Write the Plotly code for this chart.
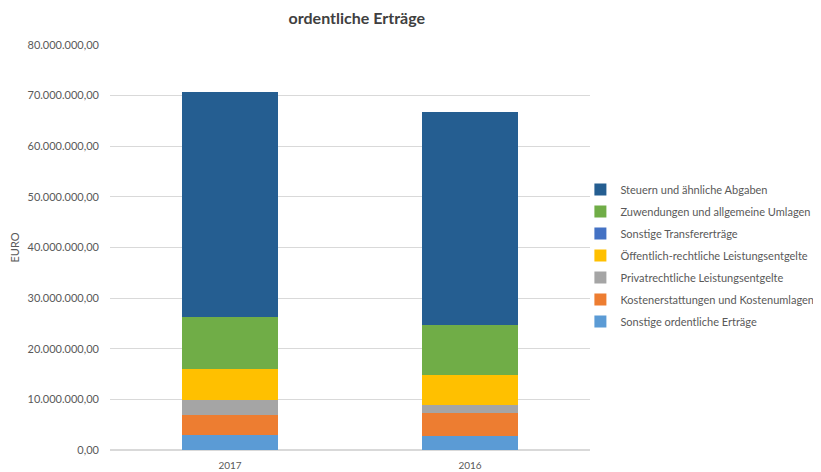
import plotly.graph_objects as go

years = ["2017", "2016"]

# stacked bottom -> top
series = [
    "Sonstige ordentliche Erträge",
    "Kostenerstattungen und Kostenumlagen",
    "Privatrechtliche Leistungsentgelte",
    "Öffentlich-rechtliche Leistungsentgelte",
    "Sonstige Transfererträge",
    "Zuwendungen und allgemeine Umlagen",
    "Steuern und ähnliche Abgaben",
]
sonstige_ordentliche = [3000000, 2700000]
kostenerstattungen = [3950000, 4650000]
privatrechtliche = [2950000, 1500000]
oeffentlich_rechtliche = [6100000, 6000000]
transfer = [30000, 10000]
zuwendungen = [10150000, 9850000]
steuern = [44600000, 42100000]

values = [
    sonstige_ordentliche,
    kostenerstattungen,
    privatrechtliche,
    oeffentlich_rechtliche,
    transfer,
    zuwendungen,
    steuern,
]
colors = ["#5B9BD5", "#ED7D31", "#A5A5A5", "#FFC000", "#4472C4", "#70AD47", "#255E91"]

font = "Lato, 'Open Sans', sans-serif"

fig = go.Figure()
for i, (name, vals, col) in enumerate(zip(series, values, colors)):
    fig.add_trace(
        go.Bar(
            x=years,
            y=vals,
            name=name,
            legendgroup=name,
            legendrank=len(series) - i,
            marker=dict(color=col, line=dict(width=0)),
            width=0.4,
        )
    )

# the page body has an 8px margin, so the figure is 8px smaller each way
fig.update_layout(
    barmode="stack",
    width=813,
    height=464,
    margin=dict(l=102, r=231, t=37, b=22, autoexpand=False),
    paper_bgcolor="white",
    plot_bgcolor="white",
    separators=",.",
    font=dict(family=font, size=11, color="#595959"),
    title=dict(
        text="<b>ordentliche Erträge</b>",
        x=0.429,
        xanchor="center",
        y=0.978,
        yanchor="middle",
        font=dict(family=font, size=16, color="#404040"),
    ),
    legend=dict(
        traceorder="grouped",
        tracegroupgap=3,
        x=0.98,
        xanchor="left",
        y=0.48,
        yanchor="middle",
        font=dict(family=font, size=11, color="#595959"),
        itemwidth=30,
        bgcolor="rgba(0,0,0,0)",
    ),
    yaxis=dict(
        range=[0, 80000000],
        dtick=10000000,
        tickformat=",.2f",
        gridcolor="#D9D9D9",
        gridwidth=1,
        zeroline=True,
        zerolinecolor="#D9D9D9",
        showline=False,
        ticks="",
        ticklabelstandoff=10,
        automargin=False,
        title=dict(text="EURO", standoff=11, font=dict(size=11, color="#595959")),
    ),
    xaxis=dict(
        showline=False,
        ticks="",
        automargin=False,
        ticklabelstandoff=8,
        tickfont=dict(size=10, color="#595959"),
    ),
    bargap=0.6,
)

fig.write_html("out.html")
